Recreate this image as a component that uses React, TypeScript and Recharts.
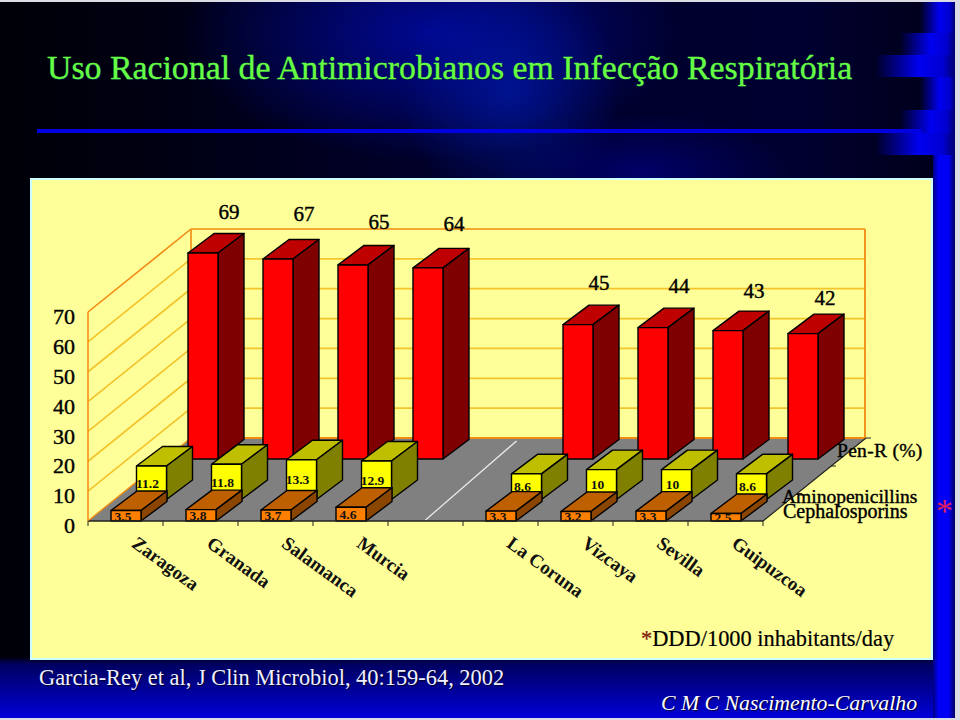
import React from "react";
import { BarChart, Bar, XAxis, YAxis, CartesianGrid } from "recharts";

const cities = ["Zaragoza", "Granada", "Salamanca", "Murcia", "", "La Coruna", "Vizcaya", "Sevilla", "Guipuzcoa"];
const penR = [69, 67, 65, 64, null, 45, 44, 43, 42];
const aminopenicillins = [11.2, 11.8, 13.3, 12.9, null, 8.6, 10, 10, 8.6];
const cephalosporins = [3.5, 3.8, 3.7, 4.6, null, 3.3, 3.2, 3.3, 2.5];
const yTicks = [0, 10, 20, 30, 40, 50, 60, 70];
const seriesNames = ["Pen-R (%)", "Aminopenicillins", "Cephalosporins"];

const rows = cities.map((city, i) => ({
  city,
  penR: penR[i],
  amino: aminopenicillins[i],
  ceph: cephalosporins[i],
}));

const SERIF = "'Liberation Serif', 'Times New Roman', serif";
const DEPTH_X = 103;
const DEPTH_Y = -83;
const WALL_STROKE = "#f08a10";
const GRID_STROKE = "#f4c42c";

// hand-placed label nudges for the tall row, as in the source slide
const bigNudgeX = [0, 0, 0, 0, 0, -5, 0, 0, -4];
const bigNudgeY = [-1, -5, -3, -4, 0, -2, -2, 0, 4];

type Look = {
  key: "penR" | "amino" | "ceph";
  front: string;
  top: string;
  side: string;
  dx: number;
  dy: number;
  label: (x: number, y: number, w: number, h: number, v: number, i: number) => React.ReactNode;
};

const strong = { stroke: "#000", strokeWidth: 0.4 };

const Box = (props: any, look: Look) => {
  const { x, y, width, height, payload } = props;
  const v = payload?.[look.key];
  if (v == null || !Number.isFinite(y)) return <g />;
  const cityIndex = cities.indexOf(payload.city);
  const fx = x + look.dx;
  const fy = y + look.dy;
  const ddx = 26;
  const ddy = -19.5;
  const line = { stroke: "#000", strokeWidth: 1.4, strokeLinejoin: "round" as const };
  return (
    <g>
      <polygon
        points={`${fx},${fy} ${fx + ddx},${fy + ddy} ${fx + width + ddx},${fy + ddy} ${fx + width},${fy}`}
        fill={look.top}
        {...line}
      />
      <polygon
        points={`${fx + width},${fy} ${fx + width + ddx},${fy + ddy} ${fx + width + ddx},${fy + height + ddy} ${fx + width},${fy + height}`}
        fill={look.side}
        {...line}
      />
      <rect x={fx} y={fy} width={width} height={height} fill={look.front} {...line} />
      {look.label(fx, fy, width, height, v, cityIndex)}
    </g>
  );
};

const smallLabel = (offsetX: number) => (x: number, y: number, w: number, h: number, v: number) => (
  <text
    x={x + w / 2 + offsetX}
    y={y + h / 2}
    dy="0.35em"
    textAnchor="middle"
    fontFamily={SERIF}
    fontSize={13.5}
    fontWeight="bold"
    fill="#111"
  >
    {v}
  </text>
);

const bigLabel = (x: number, y: number, w: number, h: number, v: number, i: number) => (
  <text
    x={x + w / 2 + 26 + (bigNudgeX[i] ?? 0)}
    y={y - 40 + (bigNudgeY[i] ?? 0)}
    dy="0.35em"
    textAnchor="middle"
    fontFamily={SERIF}
    fontSize={21}
    fill="#000"
    {...strong}
  >
    {v}
  </text>
);

const looks: Look[] = [
  { key: "penR", front: "#ff0000", top: "#bf0000", side: "#7f0000", dx: 77, dy: -62, label: bigLabel },
  { key: "amino", front: "#ffff00", top: "#bfbf00", side: "#7f7f00", dx: 25.5, dy: -21.5, label: smallLabel(-4) },
  { key: "ceph", front: "#ff8000", top: "#bf6000", side: "#8a4500", dx: 0, dy: 0, label: smallLabel(-3) },
];

const GridLine = (props: any) => {
  const { x1, x2, y1, x, y, width, height, index } = props;
  const isFloor = Math.abs(y1 - (y + height)) < 0.5;
  const isTop = Math.abs(y1 - y) < 0.5;
  return (
    <g key={`grid-${index}`}>
      {!isFloor && !isTop && (
        <>
          <line x1={x1} y1={y1} x2={x1 + DEPTH_X} y2={y1 + DEPTH_Y} stroke={GRID_STROKE} strokeWidth={1.7} />
          <line x1={x1 + DEPTH_X} y1={y1 + DEPTH_Y} x2={x2 + DEPTH_X - 1} y2={y1 + DEPTH_Y} stroke={GRID_STROKE} strokeWidth={1.7} />
        </>
      )}
      {isTop && (
        <>
          <line x1={x1} y1={y1} x2={x1 + DEPTH_X} y2={y1 + DEPTH_Y} stroke={WALL_STROKE} strokeWidth={1.6} />
          <line x1={x1 + DEPTH_X} y1={y1 + DEPTH_Y} x2={x2 + DEPTH_X - 1} y2={y1 + DEPTH_Y} stroke={WALL_STROKE} strokeWidth={1.6} />
          <line x1={x1 + DEPTH_X} y1={y1 + DEPTH_Y} x2={x1 + DEPTH_X} y2={y + height + DEPTH_Y} stroke={WALL_STROKE} strokeWidth={1.6} />
          <line x1={x2 + DEPTH_X - 1} y1={y1 + DEPTH_Y} x2={x2 + DEPTH_X - 1} y2={y + height + DEPTH_Y} stroke={WALL_STROKE} strokeWidth={1.8} />
        </>
      )}
      {isFloor && (
        <>
          <polygon
            points={`${x1},${y1} ${x1 + DEPTH_X},${y1 + DEPTH_Y} ${x2 + DEPTH_X},${y1 + DEPTH_Y} ${x2},${y1}`}
            fill="#808080"
            stroke="none"
          />
          <line x1={x1 + DEPTH_X} y1={y1 + DEPTH_Y} x2={x2 + DEPTH_X} y2={y1 + DEPTH_Y} stroke={WALL_STROKE} strokeWidth={1.8} />
          <line x1={x1} y1={y1} x2={x1 + DEPTH_X} y2={y1 + DEPTH_Y} stroke={WALL_STROKE} strokeWidth={1.4} />
          <line x1={x2} y1={y1} x2={x2 + DEPTH_X} y2={y1 + DEPTH_Y} stroke="#222" strokeWidth={1.2} />
          <line x1={x2 + 34} y1={y1 - 27.5} x2={x2 + 39} y2={y1 - 27.5} stroke="#222" strokeWidth={1} />
          <line x1={x2 + 68} y1={y1 - 55} x2={x2 + 73} y2={y1 - 55} stroke="#222" strokeWidth={1} />
          <line x1={x2 + DEPTH_X} y1={y1 + DEPTH_Y} x2={x2 + DEPTH_X + 5} y2={y1 + DEPTH_Y} stroke="#222" strokeWidth={1} />
          <line x1={x1 + width / 2} y1={y1 - 1} x2={x1 + width / 2 + 91} y2={y1 - 80} stroke="#eeeeee" strokeWidth={1.2} />
        </>
      )}
    </g>
  );
};

const YTick = (props: any) => (
  <text x={props.x} y={props.y + 4.5} dy="0.35em" textAnchor="end" fontFamily={SERIF} fontSize={22} fill="#000" {...strong}>
    {props.payload.value}
  </text>
);

const XTick = (props: any) => {
  const { x, y, payload, index, width } = props;
  const band = (width ?? 675) / cities.length;
  const last = index === cities.length - 1;
  return (
    <g>
      <line x1={x - band / 2} y1={y} x2={x - band / 2} y2={y + 5} stroke="#222" strokeWidth={1} />
      {last && <line x1={x + band / 2} y1={y} x2={x + band / 2} y2={y + 5} stroke="#222" strokeWidth={1} />}
      {payload.value && (
        <text
          transform={`translate(${x + 5},${y + 25}) rotate(36)`}
          fontFamily={SERIF}
          fontSize={19}
          fontWeight="bold"
          fill="#111"
        >
          {payload.value}
        </text>
      )}
    </g>
  );
};

const Abs = ({ style, children }: { style: React.CSSProperties; children?: React.ReactNode }) => (
  <div style={{ position: "absolute", whiteSpace: "nowrap", fontFamily: SERIF, ...style }}>{children}</div>
);

const stripBlocks = [
  { top: 2, h: 31, left: 920 },
  { top: 33, h: 22, left: 900 },
  { top: 55, h: 22, left: 875 },
  { top: 77, h: 33, left: 920 },
  { top: 110, h: 23, left: 900 },
  { top: 133, h: 22, left: 875 },
];

export default function App() {
  return (
    <div style={{ position: "fixed", left: 0, top: 0, width: 960, height: 720, background: "#dcdce4", overflow: "hidden" }}>
      <div
        style={{
          position: "absolute",
          left: 0,
          top: 2,
          width: 955,
          height: 716,
          background:
            "linear-gradient(to bottom, rgba(0,0,0,0) 0, rgba(0,0,0,0) 655px, #000060 662px, #0000d8 716px)," +
            "radial-gradient(ellipse 110px 120px at 510px 90px, rgba(0,30,190,0.55), rgba(0,0,120,0) 100%)," +
            "radial-gradient(ellipse 250px 130px at 430px 30px, rgba(0,10,170,0.8), rgba(0,0,90,0) 100%)," +
            "radial-gradient(ellipse 150px 60px at 640px 170px, rgba(0,0,130,0.7), rgba(0,0,60,0) 100%)," +
            "linear-gradient(to right, #000008 0, #000010 130px, #000028 400px, #000030 800px, #000018 955px)",
        }}
      />
      {stripBlocks.map((b) => (
        <div
          key={b.top}
          style={{
            position: "absolute",
            left: b.left,
            top: b.top,
            width: 955 - b.left,
            height: b.h,
            background: "linear-gradient(to right, rgba(0,0,200,0), #0000f0 55%, #0000d0 85%, #000070 100%)",
          }}
        />
      ))}
      <div
        style={{
          position: "absolute",
          left: 933,
          top: 155,
          width: 22,
          height: 563,
          background: "linear-gradient(to right, #000080, #0000f5 25%, #0000f5 70%, #000060 100%)",
        }}
      />
      <div style={{ position: "absolute", left: 37, top: 129, width: 885, height: 4, background: "#0000e0" }} />
      <div
        style={{
          position: "absolute",
          left: 30,
          top: 178,
          width: 899,
          height: 478,
          background: "#ffff99",
          border: "2px solid #ccffff",
        }}
      />

      <Abs
        style={{
          left: 47,
          top: 49,
          fontSize: 33.8,
          lineHeight: "38px",
          color: "#66ff44",
          textShadow: "1px 1px 1px #001040",
          WebkitTextStroke: "0.3px #66ff44",
        }}
      >
        Uso Racional de Antimicrobianos em Infecção Respiratória
      </Abs>

      <div style={{ position: "absolute", left: 0, top: 0 }}>
        <BarChart
          width={960}
          height={720}
          data={rows}
          barSize={30}
          barGap={-30}
          barCategoryGap={0}
          margin={{ top: 312, right: 197, bottom: 159, left: 28 }}
        >
          <CartesianGrid vertical={false} horizontal={GridLine} stroke={GRID_STROKE} />
          <XAxis
            dataKey="city"
            height={40}
            interval={0}
            tickLine={false}
            tickSize={0}
            tickMargin={0}
            axisLine={{ stroke: "#222", strokeWidth: 1.5 }}
            tick={XTick}
          />
          <YAxis
            width={60}
            domain={[0, 70]}
            ticks={yTicks}
            tickLine={false}
            tickSize={0}
            tickMargin={13}
            axisLine={{ stroke: WALL_STROKE, strokeWidth: 1.5 }}
            tick={YTick}
          />
          {looks.map((look) => (
            <Bar key={look.key} dataKey={look.key} isAnimationActive={false} fill={look.front} shape={(p: any) => Box(p, look)} />
          ))}
        </BarChart>
      </div>

      <svg width={960} height={720} style={{ position: "absolute", left: 0, top: 0, pointerEvents: "none" }}>
        <g fontFamily={SERIF} fill="#000" {...strong}>
          <text x={837} y={457} fontSize={19.5} letterSpacing={0.3}>{seriesNames[0]}</text>
          <text x={782} y={503} fontSize={19.5}>{seriesNames[1]}</text>
          <text x={783} y={518} fontSize={20}>{seriesNames[2]}</text>
        </g>
      </svg>

      <Abs style={{ left: 641, top: 626, fontSize: 22.4, lineHeight: "26px", color: "#000", WebkitTextStroke: "0.2px #000" }}>
        <span style={{ color: "#b02010" }}>*</span>DDD/1000 inhabitants/day
      </Abs>
      <Abs style={{ left: 39, top: 665, fontSize: 22.4, lineHeight: "26px", color: "#f0f0ff", textShadow: "1px 1px 1px #000030" }}>
        Garcia-Rey et al, J Clin Microbiol, 40:159-64, 2002
      </Abs>
      <Abs style={{ left: 661, top: 690, fontSize: 21.8, lineHeight: "26px", fontStyle: "italic", color: "#ffffff", textShadow: "1px 1px 1px #000030" }}>
        C M C Nascimento-Carvalho
      </Abs>
      <Abs style={{ left: 936, top: 492, fontSize: 34, lineHeight: "38px", color: "#e02060" }}>*</Abs>
    </div>
  );
}
